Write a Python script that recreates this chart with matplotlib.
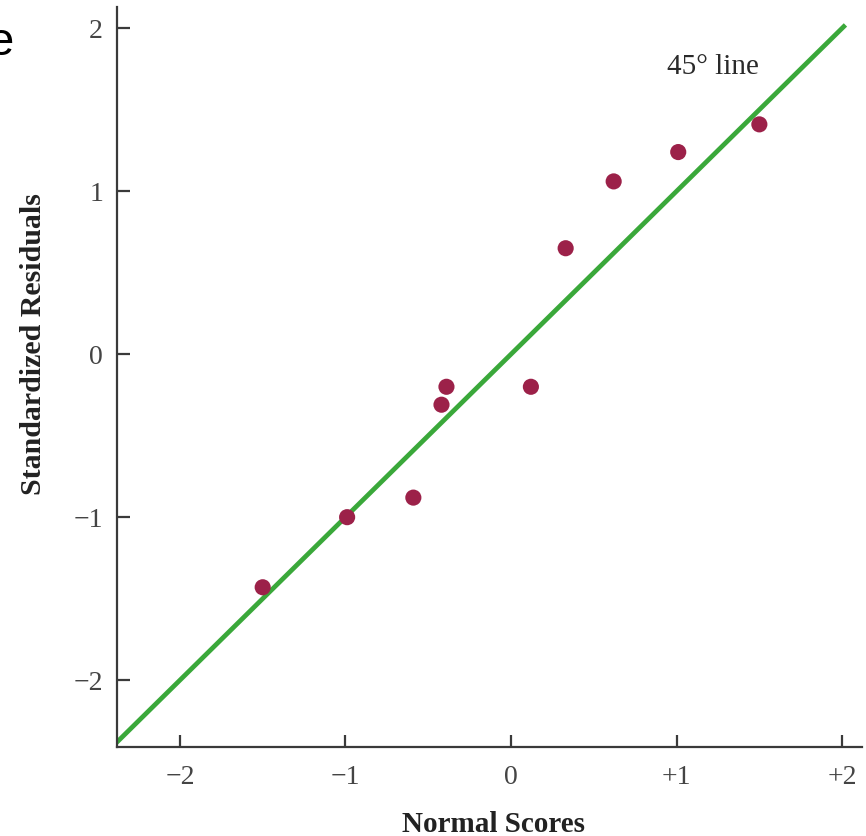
import matplotlib
matplotlib.use("Agg")
import matplotlib.pyplot as plt
import numpy as np

# normal scores vs standardized residuals
normal_scores = [-1.50, -0.99, -0.59, -0.42, -0.39, 0.12, 0.33, 0.62, 1.01, 1.50]
std_residuals = [-1.43, -1.00, -0.88, -0.31, -0.20, -0.20, 0.65, 1.06, 1.24, 1.41]

line_ends = [-2.6, 2.02]  # 45 degree reference line
tick_pos = [-2, -1, 0, 1, 2]
x_tick_labels = ['\u22122', '\u22121', '0', '+1', '+2']
y_tick_labels = ['\u22122', '\u22121', '0', '1', '2']

axis_col = '#3a3a3a'
plt.rcParams['font.family'] = ['Liberation Serif', 'DejaVu Serif']

fig = plt.figure(figsize=(8.66, 8.36), dpi=100)
ax = fig.add_axes([117 / 866, 89 / 836, 745 / 866, 740 / 836])

ax.plot(line_ends, line_ends, color='#3aa83a', lw=3.4, solid_capstyle='butt', zorder=2)
ax.scatter(normal_scores, std_residuals, s=135, color='#9c2149', edgecolors='none', zorder=3)

ax.text(0.94, 1.76, '45\u00b0 line', fontsize=21, color='#2a2a2a', va='center', ha='left')

ax.set_xlim(-2.38, 2.12)
ax.set_ylim(-2.41, 2.13)
ax.set_xticks(tick_pos)
ax.set_xticklabels(x_tick_labels)
ax.set_yticks(tick_pos)
ax.set_yticklabels(y_tick_labels)

for s in ['top', 'right']:
    ax.spines[s].set_visible(False)
for s in ['left', 'bottom']:
    ax.spines[s].set_color(axis_col)
    ax.spines[s].set_linewidth(1.6)

ax.tick_params(direction='in', length=9, width=1.6, colors=axis_col,
               labelsize=20, labelcolor='#444444')
ax.tick_params(axis='x', pad=13)
ax.tick_params(axis='y', pad=10)

ax.set_xlabel('Normal Scores', fontsize=21, fontweight='bold', color='#222222')
ax.xaxis.set_label_coords(0.505, -0.086)
ax.set_ylabel('Standardized Residuals', fontsize=21.5, fontweight='bold', color='#222222')
ax.yaxis.set_label_coords(-0.094, 0.545)

# cropped leftover letter from the source page
fig.text(14 / 866, 1 - 43 / 836, 'e', fontsize=34, family='Liberation Sans',
         ha='right', va='center', color='black')

fig.savefig('out.png', dpi=100)
